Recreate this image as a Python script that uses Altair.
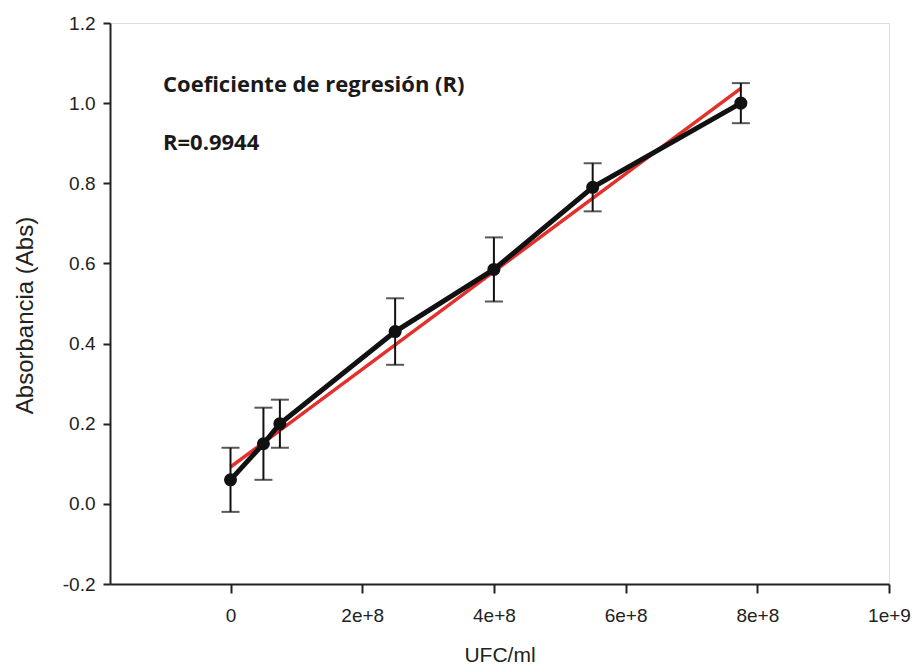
import altair as alt
import pandas as pd

# Data
ufc = [0, 5e7, 7.5e7, 2.5e8, 4.0e8, 5.5e8, 7.75e8]
absorb = [0.06, 0.15, 0.20, 0.43, 0.585, 0.79, 1.00]
err = [0.08, 0.09, 0.06, 0.083, 0.08, 0.06, 0.05]

reg_x = [0, 7.75e8]
reg_y = [0.092, 1.037]

x_ticks = [0, 2e8, 4e8, 6e8, 8e8, 1e9]
y_ticks = [-0.2, 0.0, 0.2, 0.4, 0.6, 0.8, 1.0, 1.2]

annot = ["Coeficiente de regresión (R)", "R=0.9944"]

df = pd.DataFrame({"x": ufc, "y": absorb, "lo": [a - e for a, e in zip(absorb, err)],
                   "hi": [a + e for a, e in zip(absorb, err)]})
reg = pd.DataFrame({"x": reg_x, "y": reg_y})

FONT = "Liberation Sans"

xscale = alt.Scale(domain=[-1.83e8, 1.0e9], nice=False, zero=False)
yscale = alt.Scale(domain=[-0.2, 1.2], nice=False, zero=False)

xaxis = alt.Axis(values=x_ticks, title="UFC/ml", grid=False,
                 labelExpr="datum.value == 0 ? '0' : format(datum.value, '.0e')",
                 labelFont=FONT, labelFontSize=19, labelColor="#222",
                 titleFont=FONT, titleFontSize=21, titleFontWeight="normal", titleColor="#222",
                 tickSize=9, tickWidth=2, tickColor="#222", domainColor="#222", domainWidth=2,
                 labelPadding=13, titlePadding=19, labelFlush=False)
yaxis = alt.Axis(values=y_ticks, title="Absorbancia (Abs)", grid=False,
                 labelExpr="datum.value < 0 ? '-' + format(-datum.value, '.1f') : format(datum.value, '.1f')",
                 labelFont=FONT, labelFontSize=19, labelColor="#222",
                 titleFont=FONT, titleFontSize=24, titleFontWeight="normal", titleColor="#222",
                 titleX=-85, titleY=292, titleBaseline="middle", titleAlign="center", titleAngle=270,
                 tickSize=7, tickWidth=2, tickColor="#222", domainColor="#222", domainWidth=2,
                 labelPadding=8, labelFlush=False)

red = alt.Chart(reg).mark_line(color="#e3302b", strokeWidth=3.5).encode(
    x=alt.X("x:Q", scale=xscale, axis=xaxis),
    y=alt.Y("y:Q", scale=yscale, axis=yaxis),
)

rules = alt.Chart(df).mark_rule(color="#111", strokeWidth=2).encode(
    x=alt.X("x:Q", scale=xscale), y=alt.Y("lo:Q", scale=yscale), y2="hi:Q"
)
cap_lo = alt.Chart(df).mark_tick(color="#111", thickness=2, size=18, orient="horizontal").encode(
    x=alt.X("x:Q", scale=xscale), y=alt.Y("lo:Q", scale=yscale)
)
cap_hi = alt.Chart(df).mark_tick(color="#111", thickness=2, size=18, orient="horizontal").encode(
    x=alt.X("x:Q", scale=xscale), y=alt.Y("hi:Q", scale=yscale)
)

line = alt.Chart(df).mark_line(color="#111", strokeWidth=5).encode(
    x=alt.X("x:Q", scale=xscale), y=alt.Y("y:Q", scale=yscale)
)
pts = alt.Chart(df).mark_circle(color="#111", opacity=1, size=170).encode(
    x=alt.X("x:Q", scale=xscale), y=alt.Y("y:Q", scale=yscale)
)

t1 = alt.Chart(pd.DataFrame({"t": [annot[0]]})).mark_text(
    align="left", baseline="middle", font="Open Sans", fontSize=22, fontWeight="bold", color="#1a1a1a"
).encode(text="t:N", x=alt.value(53), y=alt.value(62))
t2 = alt.Chart(pd.DataFrame({"t": [annot[1]]})).mark_text(
    align="left", baseline="middle", font="Open Sans", fontSize=22, fontWeight="bold", color="#1a1a1a"
).encode(text="t:N", x=alt.value(53), y=alt.value(120))

chart = alt.layer(red, rules, cap_lo, cap_hi, line, pts, t1, t2).properties(
    width=779, height=561,
    autosize=alt.AutoSizeParams(type="none"),
    padding={"left": 102, "top": 15, "right": 22, "bottom": 80},
).configure_view(stroke="#222", strokeWidth=2).configure(background="white")

chart.save("out.html", embed_options={"renderer": "svg", "actions": False})
